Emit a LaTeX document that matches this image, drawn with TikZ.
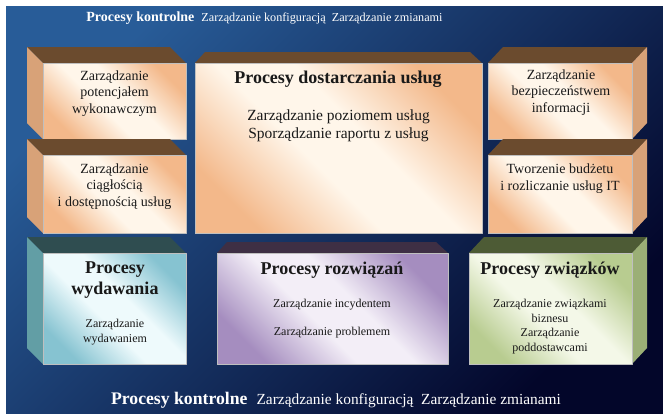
\documentclass[tikz,border=0pt]{standalone}
\usepackage{fontspec}
\setmainfont{Liberation Serif}
\definecolor{bgtop}{HTML}{285C98}
\definecolor{bgbot}{HTML}{03062A}
\definecolor{peachC}{HTML}{F3B88A}
\definecolor{peachM}{HTML}{FFF6EA}
\definecolor{peachT}{HTML}{6B4B2E}
\definecolor{peachS}{HTML}{D8A278}
\definecolor{tealC}{HTML}{86C3D1}
\definecolor{tealM}{HTML}{EEFAFC}
\definecolor{tealT}{HTML}{2F4D50}
\definecolor{tealS}{HTML}{629EA5}
\definecolor{lilaC}{HTML}{A58DBF}
\definecolor{lilaM}{HTML}{F3EEF7}
\definecolor{lilaT}{HTML}{3E2F44}
\definecolor{greenC}{HTML}{B8CC90}
\definecolor{greenM}{HTML}{F4F8E8}
\definecolor{greenT}{HTML}{4D5B35}
\definecolor{greenS}{HTML}{9BAF76}
% cieniowanie przodu klocka
\newcommand\frontshade[1]{\pgfdeclareverticalshading{front#1}{100bp}{color(0bp)=(#1C); color(25bp)=(#1C); color(44bp)=(#1M); color(56bp)=(#1M); color(75bp)=(#1C); color(100bp)=(#1C)}}
\frontshade{peach}\frontshade{teal}\frontshade{lila}\frontshade{green}
% klocek: x1,y1,x2,y2 (przod), kolor
\newcommand\cubeL[5]{%
  \fill[#5T] (#1-16,#2-16) -- (#3-16,#2-16) -- (#3,#2) -- (#1,#2) -- cycle;
  \fill[#5S] (#1-16,#2-16) -- (#1,#2) -- (#1,#4) -- (#1-16,#4-16) -- cycle;
  \shade[front=#5] (#1,#2) rectangle (#3,#4);}
\newcommand\cubeR[5]{%
  \fill[#5T] (#1+15,#2-16) -- (#3+15,#2-16) -- (#3,#2) -- (#1,#2) -- cycle;
  \fill[#5S] (#3,#2) -- (#3+15,#2-16) -- (#3+15,#4-16) -- (#3,#4) -- cycle;
  \shade[front=#5] (#1,#2) rectangle (#3,#4);}
\newcommand\cubeC[5]{%
  \fill[#5T] (#1+10,#2-11) -- (#3-12,#2-11) -- (#3,#2) -- (#1,#2) -- cycle;
  \shade[front=#5] (#1,#2) rectangle (#3,#4);}
\begin{document}
\begin{tikzpicture}[x=1pt, y=-1pt, line join=round,
    front/.style={shading=front#1, shading angle=-45, draw=black!25, line width=.5pt},
    txt/.style={align=center, inner sep=0pt, text=black!90},
    ttl/.style={txt, font=\bfseries\fontsize{18}{21}\selectfont},
    side/.style={txt, font=\fontsize{14}{16.5}\selectfont},
    small/.style={txt, font=\fontsize{12}{14.5}\selectfont}]
\useasboundingbox (0,0) rectangle (663,413);
\shade[top color=bgtop, bottom color=bgbot, shading angle=45] (6,6) rectangle (663,413);
% gorny rzad
\cubeL{43}{63}{186}{139}{peach}
\cubeL{43}{155}{186}{233}{peach}
\cubeC{195}{63}{482}{233}{peach}
\cubeR{488}{63}{632}{139}{peach}
\cubeR{488}{155}{632}{233}{peach}
% dolny rzad
\cubeL{43}{253}{186}{364}{teal}
\cubeC{217}{253}{448}{364}{lila}
\cubeR{469}{253}{632}{364}{green}
% napisy
\node[txt, text=white] (kontrolG) at (264.5,18)
  {{\bfseries\fontsize{14}{16}\selectfont Procesy kontrolne}\hspace{7pt}{\fontsize{12.2}{14}\selectfont Zarządzanie konfiguracją\ \ Zarządzanie zmianami}};
\node[txt, text=white] (kontrolD) at (336,400)
  {{\bfseries\fontsize{17.7}{20}\selectfont Procesy kontrolne}\hspace{9pt}{\fontsize{15.4}{18}\selectfont Zarządzanie konfiguracją\ \ Zarządzanie zmianami}};
\node[side] (potenc) at (114.5,93.5) {Zarządzanie\\potencjałem\\wykonawczym};
\node[side] (ciagl) at (114.5,186.5) {Zarządzanie\\ciągłością\\i dostępnością usług};
\node[ttl] (dostT) at (338,79) {Procesy dostarczania usług};
\node[txt, font=\fontsize{15.5}{18}\selectfont] (dost) at (338.5,126) {Zarządzanie poziomem usług\\Sporządzanie raportu z usług};
\node[side] (bezp) at (561,92.5) {Zarządzanie\\bezpieczeństwem\\informacji};
\node[side] (budz) at (560,178.5) {Tworzenie budżetu\\i rozliczanie usług IT};
\node[ttl] (wydT) at (115,280.5) {Procesy\\wydawania};
\node[small] (wyd) at (115,332) {Zarządzanie\\wydawaniem};
\node[ttl] (rozT) at (332,270) {Procesy rozwiązań};
\node[small] (incyd) at (332,305) {Zarządzanie incydentem};
\node[small] (probl) at (332,333) {Zarządzanie problemem};
\node[ttl] (zwiT) at (550,270) {Procesy związków};
\node[small] (zwi) at (550,326.5) {Zarządzanie związkami\\biznesu\\Zarządzanie\\poddostawcami};
\end{tikzpicture}
\end{document}
